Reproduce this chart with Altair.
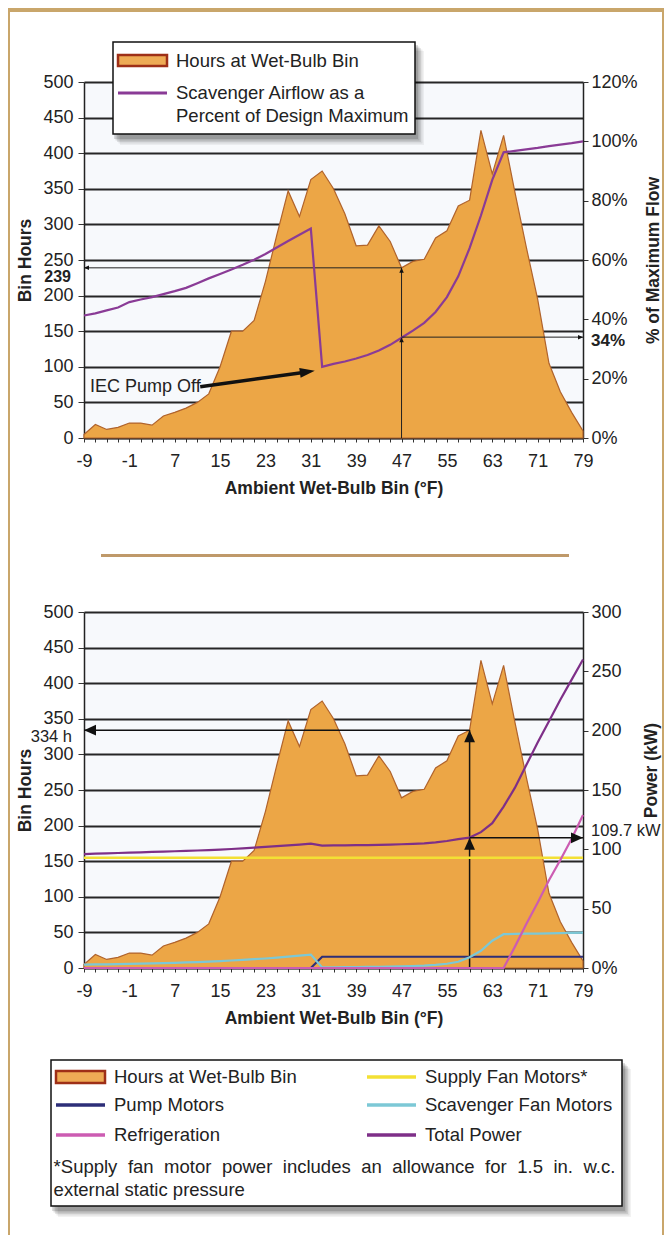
import altair as alt
import pandas as pd

# ---------------- data ----------------
bins = list(range(-9, 80, 2))  # ambient wet-bulb bins (°F)

hours = [5, 19, 12, 15, 21, 21, 18, 31, 36, 42,
         50, 62, 100, 150, 150, 165, 220, 285, 347, 311,
         363, 375, 350, 315, 270, 271, 298, 276, 239, 248,
         251, 281, 291, 326, 334, 432, 371, 425, 345, 268,
         195, 105, 65, 36, 10]

airflow_pct = [41.3, 42.0, 43.0, 44.0, 45.8, 46.7, 47.5, 48.5, 49.5, 50.6,
               52.2, 53.8, 55.3, 56.8, 58.4, 60.1, 62.0, 64.2, 66.4, 68.5,
               70.6, 24.0, 25.0, 25.8, 26.8, 28.0, 29.5, 31.4, 33.8, 36.2,
               38.8, 42.5, 47.5, 54.5, 64.0, 75.0, 87.0, 96.3, 96.8, 97.3,
               97.8, 98.4, 98.9, 99.4, 100.0]

supply_fan_kw = [93] * 45
pump_kw = [0] * 21 + [9.5] * 24
scavenger_kw = [2.8, 3.0, 3.1, 3.3, 3.5, 3.7, 3.9, 4.1, 4.4, 4.7,
                5.0, 5.4, 5.8, 6.3, 6.8, 7.4, 8.0, 8.8, 9.6, 10.4,
                11.3, 0.5, 0.6, 0.7, 0.8, 0.9, 1.0, 1.2, 1.4, 1.7,
                2.0, 2.6, 3.6, 5.3, 9.0, 14.5, 23.0, 28.5, 28.7, 28.9,
                29.0, 29.2, 29.4, 29.6, 29.8]
refrig_kw = [0] * 38 + [18, 37, 55, 74, 91, 109, 129]
total_kw = [96.0, 96.3, 96.6, 96.9, 97.2, 97.5, 97.8, 98.1, 98.4, 98.7,
            99.0, 99.4, 99.8, 100.3, 100.8, 101.4, 102.0, 102.7, 103.4, 104.0,
            104.8, 103.2, 103.3, 103.4, 103.5, 103.6, 103.8, 104.0, 104.3, 104.6,
            105.0, 105.8, 107.0, 108.6, 109.9, 114.5, 122.0, 136.0, 152.0, 171.0,
            190.0, 208.0, 226.0, 243.0, 260.0]

hours_ticks = [0, 50, 100, 150, 200, 250, 300, 350, 400, 450, 500]
pct_ticks = [0, 20, 40, 60, 80, 100, 120]
kw_ticks = [0, 50, 100, 150, 200, 250, 300]

# annotation values
top_bin, top_hours, top_pct = 47, 239, 34
bot_bin, bot_hours, bot_kw = 59, 334, 109.7
iec_from = (11.5, 72)
iec_to = (30.0, 92.3)
iec_tip = (31.7, 94.5)

# ---------------- styling ----------------
FONT = "Liberation Sans"
INK = "#222222"
ORANGE = "#eca646"
ORANGE_EDGE = "#b0632c"
PURPLE = "#8a3b96"
TOTAL = "#7e2f88"
PINK = "#cc5cb2"
YELLOW = "#f3e034"
NAVY = "#2d2e78"
CYAN = "#7cc8d6"
GOLD = "#c9a66b"
W, H = 499, 356

df = pd.DataFrame({"t": bins, "h": hours, "p": airflow_pct, "sup": supply_fan_kw,
                   "pump": pump_kw, "scav": scavenger_kw, "ref": refrig_kw, "tot": total_kw})

xs = alt.Scale(domain=[-9, 79], nice=False, zero=False)
hs = alt.Scale(domain=[0, 500], nice=False)
ps = alt.Scale(domain=[0, 120], nice=False)
ks = alt.Scale(domain=[0, 300], nice=False)

ONE = pd.DataFrame({"k": [0]})
ARROW = "M0,0L0.9,2L-0.9,2Z"
ARROW_THIN = "M0,0L0.65,2L-0.65,2Z"


def x_axis():
    return alt.Axis(title="Ambient Wet-Bulb Bin (°F)", values=bins,
                    labelExpr="(datum.value + 9) % 8 == 0 ? '' + datum.value : ''",
                    tickSize=4, tickColor="#333", tickWidth=1, domainColor=INK, domainWidth=1.5,
                    labelFont=FONT, labelFontSize=18, labelColor=INK, labelPadding=10,
                    labelOverlap=False, labelFlush=False, titleFont=FONT, titleFontSize=17.5,
                    titleFontWeight="bold", titleColor=INK, titlePadding=9, grid=False)


def left_axis():
    return alt.Axis(title="Bin Hours", orient="left", values=hours_ticks, grid=True,
                    gridColor="#262626", gridWidth=1.8, tickSize=6, tickColor="#333",
                    domainColor=INK, domainWidth=1.5, labelFont=FONT, labelFontSize=18,
                    labelColor=INK, labelPadding=5, titleFont=FONT, titleFontSize=17.5,
                    titleFontWeight="bold", titleColor=INK, titlePadding=8)


def right_axis(title, values, expr, pad, title_y=None):
    kw = dict(title=title, orient="right", values=values, labelExpr=expr, grid=False,
              tickSize=5, tickColor="#333", domainColor=INK, domainWidth=1.5,
              labelFont=FONT, labelFontSize=18, labelColor=INK, labelPadding=3,
              titleFont=FONT, titleFontSize=17.5, titleFontWeight="bold", titleColor=INK,
              titlePadding=pad, titleAngle=270, titleBaseline="top")
    if title_y is not None:
        kw["titleY"] = title_y
    return alt.Axis(**kw)


def X():
    return alt.X("t:Q", scale=xs, axis=x_axis())


def YH(field="h"):
    return alt.Y(f"{field}:Q", scale=hs, axis=left_axis())


def YP(field="p"):
    return alt.Y(f"{field}:Q", scale=ps,
                 axis=right_axis("% of Maximum Flow", pct_ticks, "datum.value + '%'", 7))


def YK(field="k"):
    return alt.Y(f"{field}:Q", scale=ks,
                 axis=right_axis("Power (kW)", kw_ticks,
                                 "datum.value == 0 ? '0%' : '' + datum.value", 21, 158))


def prect(x1, x2, y1, y2, **kw):
    return alt.Chart(ONE).mark_rect(**kw).encode(
        x=alt.value(x1), x2=alt.value(x2), y=alt.value(y1), y2=alt.value(y2))


def pline(x1, x2, y, **kw):
    return alt.Chart(ONE).mark_rule(**kw).encode(x=alt.value(x1), x2=alt.value(x2), y=alt.value(y))


def ptext(x, y, text, size=18.5, weight="normal", align="left"):
    return alt.Chart(ONE).mark_text(text=text, font=FONT, fontSize=size, fontWeight=weight,
                                    color=INK, align=align, baseline="middle").encode(
        x=alt.value(x), y=alt.value(y))


def boxed(x1, x2, y1, y2):
    out = []
    for d, op in [(9, 0.05), (7.5, 0.07), (6, 0.09), (4.5, 0.11), (3, 0.13)]:
        out.append(prect(x1 + d - 2, x2 + d, y1 + d, y2 + d + 2, color="#000", opacity=op))
    out.append(prect(x1, x2, y1, y2, fill="white", stroke="#111", strokeWidth=1.5))
    return out


def heads(df_, yenc, size, shape=ARROW):
    return alt.Chart(df_).mark_point(shape=shape, filled=True, size=size, color="#111",
                                     opacity=1, strokeWidth=0).encode(
        x=X(), y=yenc, angle=alt.Angle("a:Q", scale=None))


def area_layer():
    return alt.Chart(df).mark_area(fill=ORANGE, stroke=ORANGE_EDGE, strokeWidth=1.2,
                                   fillOpacity=1).encode(x=X(), y=YH())


# ---------------- top chart ----------------
top_h = pd.DataFrame({"t": [-9], "t2": [top_bin], "h": [top_hours]})
top_v = pd.DataFrame({"t": [top_bin], "h": [0], "h2": [top_hours]})
top_p = pd.DataFrame({"t": [top_bin], "t2": [79], "p": [top_pct]})
top_heads_h = pd.DataFrame({"t": [-9, top_bin], "h": [top_hours, top_hours], "a": [270, 0]})
top_heads_p = pd.DataFrame({"t": [top_bin, 79], "p": [top_pct, top_pct], "a": [0, 90]})
iec_line = pd.DataFrame({"t": [iec_from[0]], "t2": [iec_to[0]], "h": [iec_from[1]], "h2": [iec_to[1]]})
iec_head = pd.DataFrame({"t": [iec_tip[0]], "h": [iec_tip[1]], "a": [82]})

top_left_layers = [
    area_layer(),
    alt.Chart(top_h).mark_rule(color=INK, strokeWidth=1).encode(x=X(), x2="t2:Q", y=YH()),
    alt.Chart(top_v).mark_rule(color=INK, strokeWidth=1).encode(x=X(), y=YH(), y2="h2:Q"),
    heads(top_heads_h, YH(), 25),
    alt.Chart(pd.DataFrame({"h": [top_hours], "lab": [str(top_hours)]})).mark_text(
        font=FONT, fontSize=16, fontWeight="bold", color=INK, align="right",
        baseline="middle", dy=9).encode(x=alt.value(-13), y=YH(), text="lab:N"),
    alt.Chart(iec_line).mark_rule(color="#111", strokeWidth=3.5).encode(
        x=X(), x2="t2:Q", y=YH(), y2="h2:Q"),
    heads(iec_head, YH(), 225, ARROW_THIN),
    ptext(6, 305, "IEC Pump Off", size=18),
]
top_left_layers += boxed(29, 331, -40, 52)
top_left_layers += [
    prect(34, 83, -27, -16, fill="#eeab55", stroke="#9e2f17", strokeWidth=2.5),
    ptext(92, -21, "Hours at Wet-Bulb Bin"),
    pline(34, 83, 11, color=PURPLE, strokeWidth=3),
    ptext(92, 11, "Scavenger Airflow as a"),
    ptext(92, 34, "Percent of Design Maximum"),
    # page frame and separator
    prect(-76, 580, -74, -70, color=GOLD),
    prect(-76, -74, -74, 1153, color=GOLD),
    prect(578, 580, -74, 1153, color=GOLD),
    prect(17, 485, 472, 475, color="#bf996a"),
]

top_right_layers = [
    alt.Chart(df).mark_line(color=PURPLE, strokeWidth=2.2).encode(x=X(), y=YP()),
    alt.Chart(top_p).mark_rule(color=INK, strokeWidth=1).encode(x=X(), x2="t2:Q", y=YP()),
    heads(top_heads_p, YP(), 25),
    alt.Chart(pd.DataFrame({"p": [top_pct], "lab": [f"{top_pct}%"]})).mark_text(
        font=FONT, fontSize=17, fontWeight="bold", color=INK, align="left",
        baseline="middle", dy=4).encode(x=alt.value(507), y=YP(), text="lab:N"),
]

top = alt.layer(alt.layer(*top_left_layers), alt.layer(*top_right_layers)).resolve_scale(
    y="independent").properties(width=W, height=H)

# ---------------- bottom chart ----------------
bot_h = pd.DataFrame({"t": [-9], "t2": [bot_bin], "h": [bot_hours]})
bot_v = pd.DataFrame({"t": [bot_bin], "h": [0], "h2": [bot_hours]})
bot_k = pd.DataFrame({"t": [bot_bin], "t2": [79], "k": [bot_kw]})
bot_heads_h = pd.DataFrame({"t": [-9, bot_bin], "h": [bot_hours, bot_hours], "a": [270, 0]})
bot_heads_k = pd.DataFrame({"t": [bot_bin, 79], "k": [bot_kw, bot_kw], "a": [0, 90]})

bot_left_layers = [
    area_layer(),
    alt.Chart(bot_h).mark_rule(color="#111", strokeWidth=1.5).encode(x=X(), x2="t2:Q", y=YH()),
    alt.Chart(bot_v).mark_rule(color="#111", strokeWidth=1.5).encode(x=X(), y=YH(), y2="h2:Q"),
    heads(bot_heads_h, YH(), 144),
    alt.Chart(pd.DataFrame({"h": [bot_hours], "lab": [f"{bot_hours} h"]})).mark_text(
        font=FONT, fontSize=16.5, color=INK, align="right", baseline="middle", dy=7).encode(
        x=alt.value(-12), y=YH(), text="lab:N"),
]
bot_left_layers += boxed(-33, 538, 448, 594)
bot_left_layers += [
    prect(-28, 21, 459, 471, fill="#eeab55", stroke="#9e2f17", strokeWidth=2.5),
    ptext(30, 465, "Hours at Wet-Bulb Bin"),
    pline(-28, 21, 493, color=NAVY, strokeWidth=3.5),
    ptext(30, 493, "Pump Motors"),
    pline(-28, 21, 523, color=PINK, strokeWidth=3.5),
    ptext(30, 523, "Refrigeration"),
    pline(283, 332, 465, color=YELLOW, strokeWidth=3.5),
    ptext(341, 465, "Supply Fan Motors*"),
    pline(283, 332, 493, color=CYAN, strokeWidth=3.5),
    ptext(341, 493, "Scavenger Fan Motors"),
    pline(283, 332, 523, color=TOTAL, strokeWidth=3.5),
    ptext(341, 523, "Total Power"),
]
foot_words = ["*Supply", "fan", "motor", "power", "includes", "an", "allowance", "for",
              "1.5", "in.", "w.c."]
foot_x = [-30.4, 43.9, 80.1, 137.9, 198.8, 277.2, 308.3, 401.1, 433.2, 469.4, 499.4]
for wd, xx in zip(foot_words, foot_x):
    bot_left_layers.append(ptext(xx, 555, wd))
bot_left_layers.append(ptext(-30.4, 578, "external static pressure"))


def kline(field, color, width=2.2):
    return alt.Chart(df).mark_line(color=color, strokeWidth=width).encode(x=X(), y=YK(field))


bot_right_layers = [
    kline("sup", YELLOW, 2.5),
    kline("pump", NAVY),
    kline("scav", CYAN),
    kline("ref", PINK),
    kline("tot", TOTAL),
    alt.Chart(bot_k).mark_rule(color="#111", strokeWidth=1.5).encode(x=X(), x2="t2:Q", y=YK()),
    heads(bot_heads_k, YK(), 144),
    alt.Chart(pd.DataFrame({"k": [bot_kw], "lab": [f"{bot_kw} kW"]})).mark_text(
        font=FONT, fontSize=16.5, color=INK, align="left", baseline="middle", dy=-7).encode(
        x=alt.value(507), y=YK(), text="lab:N"),
]

bottom = alt.layer(alt.layer(*bot_left_layers), alt.layer(*bot_right_layers)).resolve_scale(
    y="independent").properties(width=W, height=H)

chart = alt.vconcat(top, bottom, spacing=174, bounds="flush").properties(
    padding=0, background="white"
).configure(font=FONT).configure_view(strokeWidth=0, fill="#f7f9fc")

chart.save("out.html", embed_options={"renderer": "svg", "actions": False})
